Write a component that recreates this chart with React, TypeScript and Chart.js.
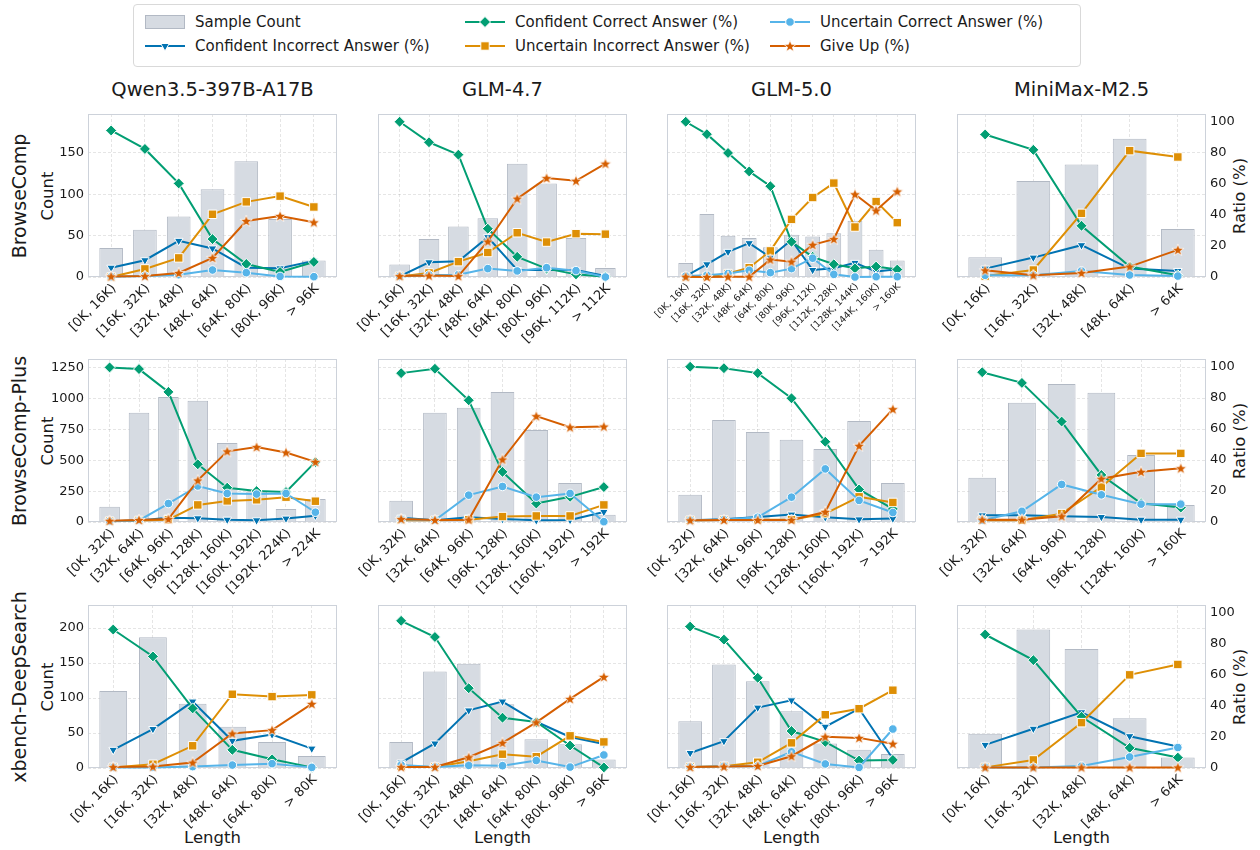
import React, { useEffect, useRef } from "react";
import { Chart, registerables } from "chart.js";

Chart.register(...registerables);

const FONT = "'DejaVu Sans', 'Liberation Sans', sans-serif";
Chart.defaults.font.family = FONT;

const MODELS = ["Qwen3.5-397B-A17B", "GLM-4.7", "GLM-5.0", "MiniMax-M2.5"];
const BENCHMARKS = ["BrowseComp", "BrowseComp-Plus", "xbench-DeepSearch"];

// ---- category labels ----
const LBL_16_96 = ["[0K, 16K)", "[16K, 32K)", "[32K, 48K)", "[48K, 64K)", "[64K, 80K)", "[80K, 96K)", "> 96K"];
const LBL_16_112 = ["[0K, 16K)", "[16K, 32K)", "[32K, 48K)", "[48K, 64K)", "[64K, 80K)", "[80K, 96K)", "[96K, 112K)", "> 112K"];
const LBL_16_160 = ["[0K, 16K)", "[16K, 32K)", "[32K, 48K)", "[48K, 64K)", "[64K, 80K)", "[80K, 96K)", "[96K, 112K)", "[112K, 128K)", "[128K, 144K)", "[144K, 160K)", "> 160K"];
const LBL_16_64 = ["[0K, 16K)", "[16K, 32K)", "[32K, 48K)", "[48K, 64K)", "> 64K"];
const LBL_32_224 = ["[0K, 32K)", "[32K, 64K)", "[64K, 96K)", "[96K, 128K)", "[128K, 160K)", "[160K, 192K)", "[192K, 224K)", "> 224K"];
const LBL_32_192 = ["[0K, 32K)", "[32K, 64K)", "[64K, 96K)", "[96K, 128K)", "[128K, 160K)", "[160K, 192K)", "> 192K"];
const LBL_32_160 = ["[0K, 32K)", "[32K, 64K)", "[64K, 96K)", "[96K, 128K)", "[128K, 160K)", "> 160K"];
const LBL_16_80 = ["[0K, 16K)", "[16K, 32K)", "[32K, 48K)", "[48K, 64K)", "[64K, 80K)", "> 80K"];

// ---- BrowseComp ----
const bcQwenCount = [35, 57, 73, 106, 140, 70, 20];
const bcQwenCC = [94.4, 82.5, 60.3, 24.4, 8.4, 3.2, 9.7];
const bcQwenCI = [6.0, 10.8, 23.3, 18.4, 6.0, 5.6, 10.4];
const bcQwenUC = [0.2, 0.6, 1.5, 4.5, 2.8, 0.4, 0.2];
const bcQwenUI = [0, 5.2, 12.3, 40.4, 48.4, 52.1, 45.1];
const bcQwenGU = [0.4, 0.6, 2.6, 12.3, 36.1, 39.3, 35.2];

const bcGlm47Count = [15, 46, 61, 71, 137, 113, 47, 11];
const bcGlm47CC = [100, 86.8, 78.8, 31.1, 13.0, 5.4, 1.7, 0.2];
const bcGlm47CI = [0.4, 9.5, 10.2, 25.7, 4.5, 4.5, 4.5, 0.6];
const bcGlm47UC = [0.4, 1.3, 1.5, 5.4, 3.9, 6.0, 4.1, 0];
const bcGlm47UI = [0.4, 2.6, 9.9, 15.8, 28.5, 22.5, 27.9, 27.6];
const bcGlm47GU = [0.6, 0.9, 0.6, 22.9, 50.5, 63.7, 62.0, 73.0];

const bcGlm50Count = [17, 76, 50, 47, 36, 51, 49, 53, 68, 33, 20];
const bcGlm50CC = [100, 92.0, 79.9, 68.0, 58.5, 22.7, 13.0, 8.2, 5.6, 6.7, 4.8];
const bcGlm50CI = [0.6, 8.2, 16.2, 21.8, 12.7, 23.8, 4.5, 5.6, 9.1, 3.5, 5.0];
const bcGlm50UC = [0.6, 1.1, 2.2, 4.3, 2.8, 5.4, 12.1, 1.7, 0, 0.2, 0.2];
const bcGlm50UI = [0, 0.2, 2.2, 6.0, 16.8, 37.1, 51.2, 60.5, 32.2, 48.6, 35.0];
const bcGlm50GU = [0.2, 0, 0.2, 0.2, 11.2, 9.9, 20.7, 24.4, 53.3, 42.8, 55.1];

const bcMiniCount = [24, 116, 136, 167, 58];
const bcMiniCC = [91.8, 81.9, 33.0, 6.7, 1.1];
const bcMiniCI = [5.4, 12.5, 20.5, 5.4, 3.9];
const bcMiniUC = [1.1, 1.1, 3.9, 1.3, 0.6];
const bcMiniUI = [0.6, 4.5, 41.0, 81.4, 77.3];
const bcMiniGU = [4.3, 1.1, 2.6, 6.7, 17.5];

// ---- BrowseComp-Plus ----
const bcpQwenCount = [124, 886, 1013, 984, 640, 250, 105, 186];
const bcpQwenCC = [99.6, 98.5, 83.8, 37.2, 22.1, 19.9, 19.3, 38.7];
const bcpQwenCI = [0.5, 1.0, 2.8, 2.4, 1.5, 1.1, 2.2, 4.1];
const bcpQwenUC = [0.5, 1.0, 11.9, 23.2, 18.4, 18.0, 18.4, 6.3];
const bcpQwenUI = [0.5, 1.0, 1.5, 11.0, 13.6, 14.3, 16.0, 13.4];
const bcpQwenGU = [0.8, 1.3, 1.9, 26.8, 45.5, 48.3, 44.8, 38.7];

const bcpGlm47Count = [173, 886, 927, 1054, 746, 316, 59];
const bcpGlm47CC = [95.9, 98.7, 78.4, 32.3, 11.9, 16.2, 22.5];
const bcpGlm47CI = [2.8, 1.1, 3.0, 1.9, 1.1, 1.3, 6.5];
const bcpGlm47UC = [1.7, 1.1, 17.3, 22.9, 16.0, 18.4, 0.2];
const bcpGlm47UI = [1.1, 1.1, 1.5, 3.5, 3.9, 3.9, 11.0];
const bcpGlm47GU = [1.9, 1.3, 1.5, 40.3, 68.2, 61.0, 61.5];

const bcpGlm50Count = [222, 827, 730, 668, 592, 819, 316];
const bcpGlm50CC = [100, 99.1, 95.9, 79.7, 51.7, 21.0, 8.4];
const bcpGlm50CI = [1.1, 1.7, 3.2, 4.8, 3.0, 1.7, 2.2];
const bcpGlm50UC = [1.1, 1.5, 3.0, 16.0, 34.2, 13.9, 6.1];
const bcpGlm50UI = [1.1, 1.3, 1.5, 1.5, 5.4, 16.2, 12.6];
const bcpGlm50GU = [1.1, 1.3, 1.3, 1.3, 6.5, 49.1, 72.7];

const bcpMiniCount = [359, 968, 1119, 1049, 543, 138];
const bcpMiniCC = [96.5, 89.6, 64.7, 30.3, 12.1, 9.3];
const bcpMiniCI = [4.3, 4.3, 3.7, 3.2, 1.5, 1.5];
const bcpMiniUC = [1.1, 6.9, 24.2, 17.5, 11.5, 11.5];
const bcpMiniUI = [1.1, 1.1, 5.4, 22.5, 44.2, 44.2];
const bcpMiniGU = [1.5, 1.5, 3.7, 27.9, 32.3, 34.6];

// ---- xbench-DeepSearch ----
const xbQwenCount = [110, 187, 92, 59, 37, 17];
const xbQwenCC = [89.2, 71.9, 38.4, 11.7, 5.6, 0.4];
const xbQwenCI = [11.7, 25.1, 42.8, 17.5, 21.6, 12.5];
const xbQwenUC = [0.4, 0.4, 0.9, 1.9, 2.8, 0.4];
const xbQwenUI = [0.4, 2.4, 14.3, 47.5, 46.0, 47.1];
const xbQwenGU = [0.6, 0.9, 3.5, 22.2, 24.4, 41.3];

const xbGlm47Count = [37, 138, 149, 91, 41, 34, 12];
const xbGlm47CC = [94.8, 84.4, 51.4, 32.4, 29.6, 14.5, 0.4];
const xbGlm47CI = [3.5, 15.8, 37.1, 42.8, 29.8, 20.0, 15.5];
const xbGlm47UC = [1.9, 0.6, 1.7, 1.5, 4.8, 0.6, 8.4];
const xbGlm47UI = [1.1, 0.6, 4.3, 8.9, 7.3, 20.7, 16.8];
const xbGlm47GU = [0.6, 0.6, 6.9, 16.2, 29.4, 44.5, 58.7];

const xbGlm50Count = [67, 148, 124, 81, 35, 26, 20];
const xbGlm50CC = [91.1, 82.7, 58.1, 23.8, 16.8, 4.8, 5.2];
const xbGlm50CI = [9.7, 17.3, 38.9, 43.6, 26.6, 38.2, 6.0];
const xbGlm50UC = [0.6, 1.1, 1.3, 10.4, 2.6, 0.4, 25.1];
const xbGlm50UI = [0.6, 1.1, 3.7, 16.2, 34.3, 38.2, 50.1];
const xbGlm50GU = [0.6, 0.9, 1.3, 7.6, 20.1, 19.4, 15.6];

const xbMiniCount = [49, 198, 170, 71, 15];
const xbMiniCC = [86, 69.5, 33, 13, 6.7];
const xbMiniCI = [14.9, 25.3, 35.9, 20.5, 13.8];
const xbMiniUC = [0.4, 0.4, 1.3, 7.1, 13.2];
const xbMiniUI = [0.4, 5.2, 29.2, 60, 66.7];
const xbMiniGU = [0.4, 0.4, 0.4, 0.4, 0.4];

// axis ranges per row
const COUNT_MAX = [197, 1322, 233];
const COUNT_STEP = [50, 250, 50];
const RATIO_MAX = 105;
const RATIO_STEP = 20;

// ---- styling / layout ----
const C_CI = "#0173b2";
const C_CC = "#029e73";
const C_UI = "#de8f05";
const C_UC = "#56b4e9";
const C_GU = "#d55e00";
const BAR_FILL = "#d6dbe2";
const BAR_EDGE = "#b2b9c4";
const FRAME = "#cdd2da";
const GRID = "rgba(0,0,0,0.10)";
const TXT = "#1a1a1a";

const PLOT_LEFT = [88, 378, 667, 957];
const PLOT_TOP = [114, 359, 605];
const PW = 249;
const PH = 163;
const ML = 75;
const MR = 45;
const MT = 14;
const MB = 100;

type PanelDef = {
  row: number;
  col: number;
  labels: string[];
  count: number[];
  cc: number[];
  ci: number[];
  uc: number[];
  ui: number[];
  gu: number[];
  small?: boolean;
};

const PANELS: PanelDef[] = [
  { row: 0, col: 0, labels: LBL_16_96, count: bcQwenCount, cc: bcQwenCC, ci: bcQwenCI, uc: bcQwenUC, ui: bcQwenUI, gu: bcQwenGU },
  { row: 0, col: 1, labels: LBL_16_112, count: bcGlm47Count, cc: bcGlm47CC, ci: bcGlm47CI, uc: bcGlm47UC, ui: bcGlm47UI, gu: bcGlm47GU },
  { row: 0, col: 2, labels: LBL_16_160, count: bcGlm50Count, cc: bcGlm50CC, ci: bcGlm50CI, uc: bcGlm50UC, ui: bcGlm50UI, gu: bcGlm50GU, small: true },
  { row: 0, col: 3, labels: LBL_16_64, count: bcMiniCount, cc: bcMiniCC, ci: bcMiniCI, uc: bcMiniUC, ui: bcMiniUI, gu: bcMiniGU },
  { row: 1, col: 0, labels: LBL_32_224, count: bcpQwenCount, cc: bcpQwenCC, ci: bcpQwenCI, uc: bcpQwenUC, ui: bcpQwenUI, gu: bcpQwenGU },
  { row: 1, col: 1, labels: LBL_32_192, count: bcpGlm47Count, cc: bcpGlm47CC, ci: bcpGlm47CI, uc: bcpGlm47UC, ui: bcpGlm47UI, gu: bcpGlm47GU },
  { row: 1, col: 2, labels: LBL_32_192, count: bcpGlm50Count, cc: bcpGlm50CC, ci: bcpGlm50CI, uc: bcpGlm50UC, ui: bcpGlm50UI, gu: bcpGlm50GU },
  { row: 1, col: 3, labels: LBL_32_160, count: bcpMiniCount, cc: bcpMiniCC, ci: bcpMiniCI, uc: bcpMiniUC, ui: bcpMiniUI, gu: bcpMiniGU },
  { row: 2, col: 0, labels: LBL_16_80, count: xbQwenCount, cc: xbQwenCC, ci: xbQwenCI, uc: xbQwenUC, ui: xbQwenUI, gu: xbQwenGU },
  { row: 2, col: 1, labels: LBL_16_96, count: xbGlm47Count, cc: xbGlm47CC, ci: xbGlm47CI, uc: xbGlm47UC, ui: xbGlm47UI, gu: xbGlm47GU },
  { row: 2, col: 2, labels: LBL_16_96, count: xbGlm50Count, cc: xbGlm50CC, ci: xbGlm50CI, uc: xbGlm50UC, ui: xbGlm50UI, gu: xbGlm50GU },
  { row: 2, col: 3, labels: LBL_16_64, count: xbMiniCount, cc: xbMiniCC, ci: xbMiniCI, uc: xbMiniUC, ui: xbMiniUI, gu: xbMiniGU },
];

function starPoints(cx: number, cy: number, ro: number, ri: number): [number, number][] {
  const pts: [number, number][] = [];
  for (let k = 0; k < 10; k++) {
    const r = k % 2 === 0 ? ro : ri;
    const a = -Math.PI / 2 + (k * Math.PI) / 5;
    pts.push([cx + r * Math.cos(a), cy + r * Math.sin(a)]);
  }
  return pts;
}

let starCanvas: HTMLCanvasElement | null = null;
function getStar(): HTMLCanvasElement {
  if (starCanvas) return starCanvas;
  const c = document.createElement("canvas");
  c.width = 16;
  c.height = 16;
  const ctx = c.getContext("2d")!;
  const pts = starPoints(8, 8.4, 6.4, 2.6);
  ctx.beginPath();
  pts.forEach(([x, y], i) => (i === 0 ? ctx.moveTo(x, y) : ctx.lineTo(x, y)));
  ctx.closePath();
  ctx.fillStyle = C_GU;
  ctx.fill();
  ctx.strokeStyle = "#ffffff";
  ctx.lineWidth = 0.8;
  ctx.stroke();
  starCanvas = c;
  return c;
}

const framePlugin = {
  id: "frame",
  beforeDatasetsDraw(chart: any) {
    const { ctx, chartArea: a } = chart;
    ctx.save();
    ctx.strokeStyle = FRAME;
    ctx.lineWidth = 1;
    ctx.strokeRect(Math.round(a.left) + 0.5, Math.round(a.top) + 0.5, Math.round(a.right - a.left) - 1, Math.round(a.bottom - a.top) - 1);
    ctx.restore();
  },
};

// draws the value labels of the count (left) and ratio (right) scales
const sideTicksPlugin = {
  id: "sideTicks",
  afterDraw(chart: any, _args: any, opts: any) {
    const { ctx, chartArea: a, scales } = chart;
    ctx.save();
    ctx.fillStyle = TXT;
    ctx.font = `13px ${FONT}`;
    ctx.textBaseline = "middle";
    if (opts.showLeft) {
      ctx.textAlign = "right";
      scales.y.ticks.forEach((t: any) => {
        ctx.fillText(String(t.value), a.left - 4, scales.y.getPixelForValue(t.value));
      });
    }
    if (opts.showRight) {
      ctx.textAlign = "left";
      scales.y2.ticks.forEach((t: any) => {
        ctx.fillText(String(t.value), a.right + 4, scales.y2.getPixelForValue(t.value));
      });
    }
    ctx.restore();
  },
};

function Panel({ p }: { p: PanelDef }) {
  const ref = useRef<HTMLCanvasElement>(null);
  const cw = ML + PW + MR;
  const ch = MT + PH + MB;
  const left = PLOT_LEFT[p.col] - ML;
  const top = PLOT_TOP[p.row] - MT;

  useEffect(() => {
    const n = p.labels.length;
    const marg = (n - 0.3) * 0.05;
    const xmin = -0.35 - marg;
    const xmax = n - 1 + 0.35 + marg;
    const pts = (arr: number[]) => arr.map((v, i) => ({ x: i, y: v }));
    const line = (label: string, data: number[], color: string, style: any, radius: number, order: number, rot = 0) => ({
      type: "line" as const,
      label,
      data: pts(data),
      xAxisID: "x",
      yAxisID: "y2",
      borderColor: color,
      backgroundColor: color,
      borderWidth: 2,
      pointStyle: style,
      pointRadius: radius,
      pointRotation: rot,
      pointBackgroundColor: color,
      pointBorderColor: "#ffffff",
      pointBorderWidth: 1,
      tension: 0,
      clip: false as any,
      order,
    });
    const tickFont = { family: FONT, size: p.small ? 9.5 : 13 };
    const chart = new Chart(ref.current!, {
      type: "bar",
      data: {
        datasets: [
          {
            type: "bar",
            label: "Sample Count",
            data: pts(p.count),
            xAxisID: "x",
            yAxisID: "y",
            backgroundColor: BAR_FILL,
            borderColor: BAR_EDGE,
            borderWidth: 1,
            barPercentage: 0.7,
            categoryPercentage: 1,
            order: 10,
          } as any,
          line("Confident Incorrect Answer (%)", p.ci, C_CI, "triangle", 5, 6, 180),
          line("Confident Correct Answer (%)", p.cc, C_CC, "rectRot", 5.5, 5),
          line("Uncertain Incorrect Answer (%)", p.ui, C_UI, "rect", 6, 4),
          line("Uncertain Correct Answer (%)", p.uc, C_UC, "circle", 4.3, 3),
          line("Give Up (%)", p.gu, C_GU, getStar(), 6, 2),
        ],
      },
      options: {
        responsive: false,
        maintainAspectRatio: false,
        animation: false,
        devicePixelRatio: 1,
        layout: { padding: { top: MT, left: 0, right: 0, bottom: 0 } },
        plugins: {
          legend: { display: false },
          tooltip: { enabled: false },
          sideTicks: { showLeft: p.col === 0, showRight: p.col === 3 },
        },
        events: [],
        scales: {
          x: {
            type: "linear",
            position: "bottom",
            offset: false,
            min: xmin,
            max: xmax,
            afterBuildTicks: (s: any) => {
              s.ticks = p.labels.map((_, i) => ({ value: i }));
            },
            afterFit: (s: any) => {
              s.height = MB;
              s.paddingLeft = 0;
              s.paddingRight = 0;
            },
            ticks: {
              autoSkip: false,
              minRotation: 45,
              maxRotation: 45,
              padding: 4,
              labelOffset: p.small ? 2 : 3,
              color: TXT,
              font: tickFont,
              callback: (v: any) => p.labels[v as number] ?? "",
            },
            grid: { color: GRID, lineWidth: 1, drawTicks: false, offset: false },
            border: { display: false, dash: [3, 2] },
          },
          y: {
            type: "linear",
            position: "left",
            min: 0,
            max: COUNT_MAX[p.row],
            afterFit: (s: any) => {
              s.width = ML;
              s.paddingTop = 0;
              s.paddingBottom = 0;
            },
            ticks: {
              stepSize: COUNT_STEP[p.row],
              includeBounds: false,
              display: false,
            },
            grid: { color: GRID, lineWidth: 1, drawTicks: false },
            border: { display: false, dash: [3, 2] },
          },
          y2: {
            type: "linear",
            position: "right",
            min: 0,
            max: RATIO_MAX,
            afterFit: (s: any) => {
              s.width = MR;
              s.paddingTop = 0;
              s.paddingBottom = 0;
            },
            ticks: {
              stepSize: RATIO_STEP,
              includeBounds: false,
              display: false,
            },
            grid: { display: false, drawTicks: false },
            border: { display: false },
          },
        },
      } as any,
      plugins: [framePlugin, sideTicksPlugin],
    });
    return () => chart.destroy();
  }, []);

  return (
    <canvas
      ref={ref}
      width={cw}
      height={ch}
      style={{ position: "absolute", left, top, width: cw, height: ch }}
    />
  );
}

function Rot({ x, y, size, children }: { x: number; y: number; size: number; children: React.ReactNode }) {
  return (
    <div
      style={{
        position: "absolute",
        left: x,
        top: y,
        transform: "translate(-50%, -50%) rotate(-90deg)",
        whiteSpace: "nowrap",
        fontSize: size,
        lineHeight: 1,
        color: TXT,
      }}
    >
      {children}
    </div>
  );
}

function Center({ x, y, size, children }: { x: number; y: number; size: number; children: React.ReactNode }) {
  return (
    <div
      style={{
        position: "absolute",
        left: x,
        top: y,
        transform: "translate(-50%, -50%)",
        whiteSpace: "nowrap",
        fontSize: size,
        lineHeight: 1,
        color: TXT,
      }}
    >
      {children}
    </div>
  );
}

function MarkerShape({ kind, color }: { kind: string; color: string }) {
  const st = { fill: color, stroke: "#ffffff", strokeWidth: 1 };
  if (kind === "diamond") return <polygon points="0,-5.5 5.5,0 0,5.5 -5.5,0" {...st} />;
  if (kind === "tri") return <polygon points="0,5 -4.33,-2.5 4.33,-2.5" {...st} />;
  if (kind === "square") return <rect x={-4.2} y={-4.2} width={8.4} height={8.4} {...st} />;
  if (kind === "circle") return <circle r={4.3} {...st} />;
  const sp = starPoints(0, 0.4, 6.4, 2.6).map(([a, b]) => `${a},${b}`).join(" ");
  return <polygon points={sp} fill={color} stroke="#ffffff" strokeWidth={0.8} />;
}

const LEGEND_ITEMS = [
  { label: "Sample Count", kind: "bar", color: BAR_FILL, x: 145, y: 22 },
  { label: "Confident Incorrect Answer (%)", kind: "tri", color: C_CI, x: 145, y: 46 },
  { label: "Confident Correct Answer (%)", kind: "diamond", color: C_CC, x: 465, y: 22 },
  { label: "Uncertain Incorrect Answer (%)", kind: "square", color: C_UI, x: 465, y: 46 },
  { label: "Uncertain Correct Answer (%)", kind: "circle", color: C_UC, x: 770, y: 22 },
  { label: "Give Up (%)", kind: "star", color: C_GU, x: 770, y: 46 },
];

function Legend() {
  return (
    <>
      <div
        style={{
          position: "absolute",
          left: 133,
          top: 4,
          width: 946,
          height: 61,
          border: "1px solid #d9d9d9",
          borderRadius: 4,
          background: "#ffffff",
        }}
      />
      {LEGEND_ITEMS.map((it) => (
        <React.Fragment key={it.label}>
          <svg style={{ position: "absolute", left: it.x, top: it.y - 10 }} width={40} height={20}>
            {it.kind === "bar" ? (
              <rect x={0.5} y={3.5} width={39} height={13} fill={BAR_FILL} stroke={BAR_EDGE} strokeWidth={1} />
            ) : (
              <>
                <line x1={0} y1={10} x2={40} y2={10} stroke={it.color} strokeWidth={2} />
                <g transform="translate(20,10)">
                  <MarkerShape kind={it.kind} color={it.color} />
                </g>
              </>
            )}
          </svg>
          <div
            style={{
              position: "absolute",
              left: it.x + 50,
              top: it.y,
              transform: "translateY(-50%)",
              fontSize: 15,
              lineHeight: 1,
              whiteSpace: "nowrap",
              color: TXT,
            }}
          >
            {it.label}
          </div>
        </React.Fragment>
      ))}
    </>
  );
}

export default function App() {
  return (
    <div
      style={{
        position: "absolute",
        left: 0,
        top: 0,
        width: 1260,
        height: 850,
        background: "#ffffff",
        fontFamily: FONT,
        overflow: "hidden",
      }}
    >
      <Legend />
      {MODELS.map((m, c) => (
        <Center key={m} x={PLOT_LEFT[c] + PW / 2} y={90} size={19.5}>
          {m}
        </Center>
      ))}
      {BENCHMARKS.map((b, r) => (
        <React.Fragment key={b}>
          <Rot x={19} y={PLOT_TOP[r] + PH / 2} size={19}>
            {b}
          </Rot>
          <Rot x={48} y={PLOT_TOP[r] + PH / 2} size={16.5}>
            Count
          </Rot>
          <Rot x={1240} y={PLOT_TOP[r] + PH / 2} size={16.5}>
            Ratio (%)
          </Rot>
        </React.Fragment>
      ))}
      {MODELS.map((m, c) => (
        <Center key={m + "-len"} x={PLOT_LEFT[c] + PW / 2} y={838} size={16.5}>
          Length
        </Center>
      ))}
      {PANELS.map((p) => (
        <Panel key={`${p.row}-${p.col}`} p={p} />
      ))}
    </div>
  );
}
